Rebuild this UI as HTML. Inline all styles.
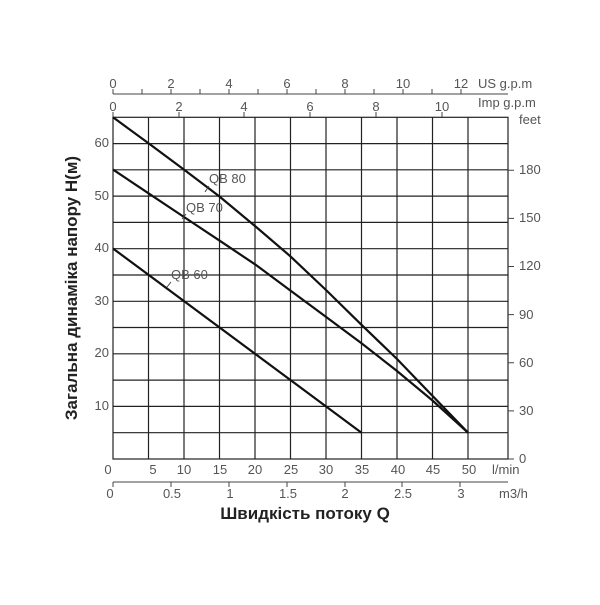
<!DOCTYPE html>
<html><head><meta charset="utf-8"><style>
body{margin:0;background:#fff}
svg text{font-family:"Liberation Sans",sans-serif;fill:#555;font-size:13px}
</style></head><body>
<svg width="600" height="600" xmlns="http://www.w3.org/2000/svg">
<g stroke="#222" stroke-width="1.2" fill="none">
<rect x="113" y="117.3" width="395" height="341.7"/>
<path d="M148.5 117.3V459M184 117.3V459M219.5 117.3V459M255 117.3V459M290.5 117.3V459M326 117.3V459M361.5 117.3V459M397 117.3V459M432.5 117.3V459M468 117.3V459"/>
<path d="M113 432.7H508M113 406.4H508M113 380.1H508M113 353.8H508M113 327.5H508M113 301.3H508M113 275H508M113 248.7H508M113 222.4H508M113 196.1H508M113 169.8H508M113 143.6H508"/>
</g>
<g stroke="#111" stroke-width="2.2" fill="none" stroke-linejoin="round">
<polyline points="113,117.3 148.5,143.3 184,169.6 219.5,196.5 255,226 290.5,256.4 326,290 361.5,324.8 397,359 432.5,395.9 468,432.7"/>
<polyline points="113,169.6 148.5,193.3 184,217 219.5,240.6 255,264.3 290.5,290.6 326,316.9 361.5,343.2 397,371 432.5,400.5 468,432.7"/>
<line x1="113" y1="248.5" x2="361.5" y2="432.7"/>
</g>
<g stroke="#444" stroke-width="1" fill="none">
<path d="M209 186L205 192M186 214L182 219M171 282L167 287"/>
<path d="M113 94H508M113 94V89M142 94V89M171 94V89M200 94V89M229 94V89M258 94V89M287 94V89M316 94V89M345 94V89M374 94V89M403 94V89M432 94V89M461 94V89"/>
<path d="M113 117V112M179 117V112M244 117V112M310 117V112M376 117V112M442 117V112"/>
<path d="M508 459H514M508 410.9H514M508 362.8H514M508 314.6H514M508 266.5H514M508 218.4H514M508 170.3H514"/>
<path d="M113 482H508M113 482V487M171 482V487M229 482V487M287 482V487M345 482V487M402 482V487M460 482V487"/>
</g>
<g text-anchor="middle">
<text x="113" y="88">0</text><text x="171" y="88">2</text><text x="229" y="88">4</text><text x="287" y="88">6</text><text x="345" y="88">8</text><text x="403" y="88">10</text><text x="461" y="88">12</text>
<text x="113" y="111">0</text><text x="179" y="111">2</text><text x="244" y="111">4</text><text x="310" y="111">6</text><text x="376" y="111">8</text><text x="442" y="111">10</text>
<text x="108" y="474">0</text><text x="153" y="474">5</text><text x="184" y="474">10</text><text x="220" y="474">15</text><text x="255" y="474">20</text><text x="291" y="474">25</text><text x="326" y="474">30</text><text x="362" y="474">35</text><text x="398" y="474">40</text><text x="433" y="474">45</text><text x="469" y="474">50</text>
<text x="110" y="498">0</text><text x="172" y="498">0.5</text><text x="230" y="498">1</text><text x="288" y="498">1.5</text><text x="345" y="498">2</text><text x="403" y="498">2.5</text><text x="461" y="498">3</text>
</g>
<text x="478" y="88">US g.p.m</text>
<text x="478" y="107">Imp g.p.m</text>
<text x="519" y="124">feet</text>
<text x="492" y="474">l/min</text>
<text x="499" y="498">m3/h</text>
<g text-anchor="end">
<text x="109" y="147">60</text><text x="109" y="200">50</text><text x="109" y="252">40</text><text x="109" y="305">30</text><text x="109" y="357">20</text><text x="109" y="410">10</text>
</g>
<g>
<text x="519" y="463">0</text><text x="519" y="415">30</text><text x="519" y="367">60</text><text x="519" y="319">90</text><text x="519" y="270">120</text><text x="519" y="222">150</text><text x="519" y="174">180</text>
</g>
<text x="209" y="183">QB 80</text>
<text x="186" y="212">QB 70</text>
<text x="171" y="279">QB 60</text>
<text x="305" y="519" text-anchor="middle" style="font-size:17px;font-weight:bold;fill:#222">Швидкість потоку Q</text>
<text transform="translate(77,288) rotate(-90)" text-anchor="middle" style="font-size:17px;font-weight:bold;fill:#222">Загальна динаміка напору H(м)</text>
</svg>
</body></html>
